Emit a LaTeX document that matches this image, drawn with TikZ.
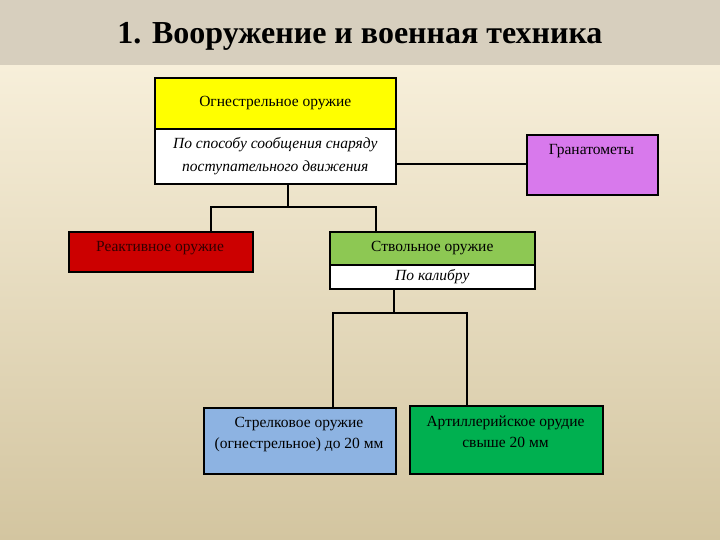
\documentclass[tikz,border=0pt]{standalone}
\usepackage{fontspec}
\setmainfont{Liberation Serif}
\definecolor{bgtop}{HTML}{F7EFDA}
\definecolor{bgbot}{HTML}{D3C5A0}
\definecolor{titlebg}{HTML}{D7CFBE}
\definecolor{yel}{HTML}{FFFF00}
\definecolor{vio}{HTML}{D879EC}
\definecolor{redb}{HTML}{CC0000}
\definecolor{lgreen}{HTML}{8DC853}
\definecolor{lblue}{HTML}{8DB3E2}
\definecolor{dgreen}{HTML}{00B050}
\begin{document}
\begin{tikzpicture}[x=1pt,y=-1pt,
  box/.style={draw=black, line width=1.6pt, inner sep=0pt, anchor=north west, align=center,
    font=\fontsize{15.5}{23}\selectfont},
  conn/.style={draw=black, line width=1.8pt},
  txt/.style={inner sep=0pt, align=center, font=\fontsize{15.5}{21}\selectfont}]
\useasboundingbox (0,0) rectangle (720,540);
\shade[top color=bgtop, bottom color=bgbot] (0,65) rectangle (720,540);
\fill[titlebg] (0,0) rectangle (720,65);
\node[inner sep=0pt, font=\bfseries\fontsize{32}{38}\selectfont] (title) at (360,36) {1. Вооружение и военная техника};

\node[box, fill=yel, minimum width=241pt, minimum height=51pt] (fire) at (154,77) {Огнестрельное оружие};
\node[box, fill=white, minimum width=241pt, minimum height=55pt, font=\itshape\fontsize{15.5}{23}\selectfont] (way) at (154,128) {По способу сообщения снаряду\\поступательного движения};
\node[box, fill=vio, minimum width=131pt, minimum height=60pt] (gran) at (526,134) {};
\node[txt] (grant) at (591.5,151) {Гранатометы};
\node[box, fill=redb, minimum width=184pt, minimum height=40pt] (react) at (68,231) {};
\node[txt, text=black!80!red] (reactt) at (160,248) {Реактивное оружие};
\node[box, fill=lgreen, minimum width=205pt, minimum height=33pt] (barrel) at (329,231) {Ствольное оружие};
\node[box, fill=white, minimum width=205pt, minimum height=24pt, font=\itshape\fontsize{15.5}{16}\selectfont] (cal) at (329,264) {По калибру};
\node[box, fill=lblue, minimum width=192pt, minimum height=66pt] (small) at (203,407) {};
\node[txt] (smallt) at (299,435) {Стрелковое оружие\\(огнестрельное) до 20 мм};
\node[box, fill=dgreen, minimum width=193pt, minimum height=68pt] (art) at (409,405) {};
\node[txt] (artt) at (505.5,432) {Артиллерийское орудие\\свыше 20 мм};

\coordinate (j1) at (288,207);
\coordinate (j2) at (394,313);
\draw[conn] ([yshift=-7.5pt]way.east) -- ([yshift=-7.5pt]way.east -| gran.west);
\draw[conn] (way.south -| j1) -- (j1);
\draw[conn] ([xshift=50pt]react.north) |- (j1) -| ([xshift=-56.5pt]barrel.north);
\draw[conn] (cal.south -| j2) -- (j2);
\draw[conn] ([xshift=33pt]small.north) |- (j2) -| ([xshift=-39.5pt]art.north);
\end{tikzpicture}
\end{document}
